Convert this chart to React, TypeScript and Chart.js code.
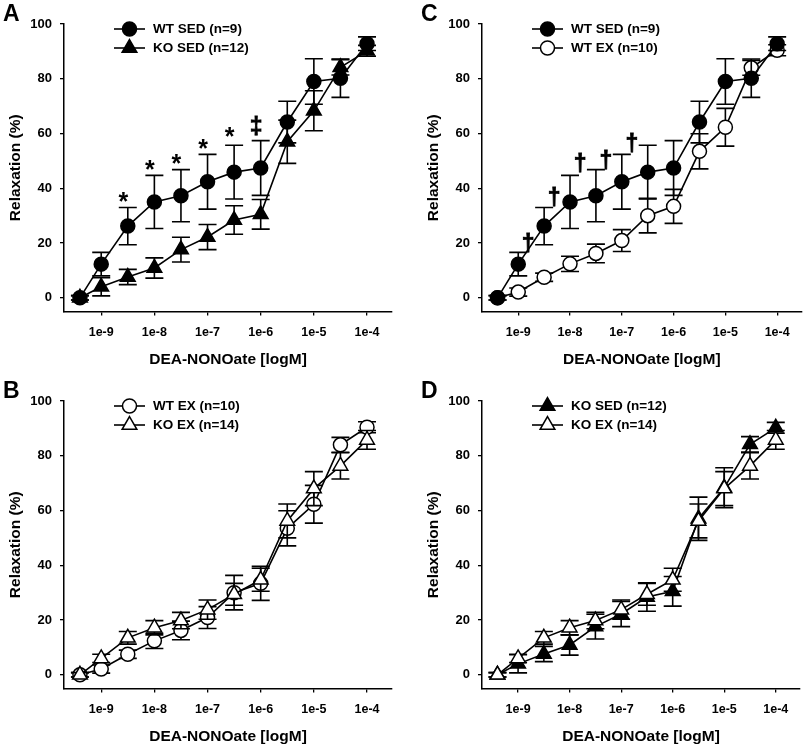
import React, { useEffect, useRef } from 'react';
import { Chart, registerables } from 'chart.js';

Chart.register(...registerables);

// ---------- data ----------
const concLog = [-9.4, -9, -8.5, -8, -7.5, -7, -6.5, -6, -5.5, -5, -4.5, -4];
const xTickValues = [-9, -8, -7, -6, -5, -4];
const xTickLabels = ['1e-9', '1e-8', '1e-7', '1e-6', '1e-5', '1e-4'];
const yTickValues = [0, 20, 40, 60, 80, 100];

const wtSed = [0, 12.3, 26.2, 35.0, 37.3, 42.4, 45.9, 47.4, 64.2, 79.0, 80.2, 92.8];
const wtSedErr = [0.8, 4.3, 6.8, 9.7, 9.5, 10.0, 9.8, 10.0, 7.6, 8.3, 7.0, 2.5];

const koSed = [0, 4.0, 7.6, 10.9, 17.6, 22.2, 28.4, 30.5, 57.0, 68.3, 84.2, 90.2];
const koSedErr = [0.8, 3.3, 2.8, 3.7, 4.5, 4.6, 5.2, 5.4, 7.9, 7.3, 2.8, 2.0];

const wtEx = [0, 2.1, 7.5, 12.4, 16.2, 20.9, 30.0, 33.4, 53.5, 62.3, 84.0, 90.4];
const wtExErr = [0.8, 1.5, 1.5, 2.8, 3.4, 4.0, 6.3, 6.2, 6.4, 6.9, 2.7, 2.0];

const koEx = [0, 6.0, 13.5, 17.2, 19.8, 23.8, 29.4, 34.7, 56.2, 68.0, 76.3, 85.8];
const koExErr = [0.8, 1.5, 2.3, 2.6, 3.0, 3.5, 4.0, 4.2, 6.2, 6.2, 4.8, 3.4];

const labelWtSed = 'WT SED (n=9)';
const labelKoSed = 'KO SED (n=12)';
const labelWtEx = 'WT EX (n=10)';
const labelKoEx = 'KO EX (n=14)';

// significance marks (x in log concentration, y in % relaxation)
const sigAX = [-8.5, -8, -7.5, -7, -6.5, -6];
const sigAY = [36.8, 48.6, 50.7, 56.1, 60.4, 62.8];
const sigAText = ['*', '*', '*', '*', '*', '\u2021'];

const sigCX = [-9, -8.5, -8, -7.5, -7];
const sigCY = [20.0, 37.0, 49.2, 50.4, 56.5];
const sigCText = ['\u2020', '\u2020', '\u2020', '\u2020', '\u2020'];

const xTitle = 'DEA-NONOate [logM]';
const yTitle = 'Relaxation (%)';

// ---------- styles ----------
const FONT = '"Liberation Sans", Arial, Helvetica, sans-serif';
const BLACK = '#000000';

type SeriesDef = {
  label: string;
  values: number[];
  errors: number[];
  shape: 'circle' | 'triangle';
  filled: boolean;
};

const S_WT_SED: SeriesDef = { label: labelWtSed, values: wtSed, errors: wtSedErr, shape: 'circle', filled: true };
const S_KO_SED: SeriesDef = { label: labelKoSed, values: koSed, errors: koSedErr, shape: 'triangle', filled: true };
const S_WT_EX: SeriesDef = { label: labelWtEx, values: wtEx, errors: wtExErr, shape: 'circle', filled: false };
const S_KO_EX: SeriesDef = { label: labelKoEx, values: koEx, errors: koExErr, shape: 'triangle', filled: false };

type PanelDef = {
  letter: string;
  left: number;
  top: number;
  width: number;
  padRight: number;
  series: SeriesDef[];
  topSeries: number;
  sig?: { xs: number[]; ys: number[]; texts: string[]; dx: number };
};

const PANELS: PanelDef[] = [
  { letter: 'A', left: 0, top: 0, width: 405, padRight: 13, series: [S_WT_SED, S_KO_SED], topSeries: 1,
    sig: { xs: sigAX, ys: sigAY, texts: sigAText, dx: -4.5 } },
  { letter: 'C', left: 418, top: 0, width: 392, padRight: 0, series: [S_WT_SED, S_WT_EX], topSeries: 0,
    sig: { xs: sigCX, ys: sigCY, texts: sigCText, dx: 10 } },
  { letter: 'B', left: 0, top: 377, width: 405, padRight: 13, series: [S_WT_EX, S_KO_EX], topSeries: 1 },
  { letter: 'D', left: 418, top: 377, width: 392, padRight: 0, series: [S_KO_SED, S_KO_EX], topSeries: 1 },
];

const PANEL_HEIGHT = 370;
const CIRCLE_R = 7;
const TRI_R = 8.5;
const LINE_W = 1.6;
const CAP_HALF = 9;

function markerPath(ctx: CanvasRenderingContext2D, shape: string, x: number, y: number) {
  ctx.beginPath();
  if (shape === 'circle') {
    ctx.arc(x, y, CIRCLE_R, 0, Math.PI * 2);
  } else {
    const r = TRI_R;
    const s = Math.sin((2 * Math.PI) / 3) * r;
    ctx.moveTo(x, y - r);
    ctx.lineTo(x + s, y + r / 2);
    ctx.lineTo(x - s, y + r / 2);
  }
  ctx.closePath();
}

const errorBarPlugin = {
  id: 'errorBars',
  beforeDatasetDraw(chart: any, args: any) {
    const ds = chart.data.datasets[args.index];
    const errs: number[] = ds.errors;
    if (!errs) return;
    const yScale = chart.scales.y;
    const ctx = chart.ctx;
    ctx.save();
    ctx.strokeStyle = BLACK;
    ctx.lineWidth = LINE_W;
    args.meta.data.forEach((el: any, i: number) => {
      const v = ds.data[i].y;
      const e = errs[i];
      const x = el.x;
      const yTop = yScale.getPixelForValue(v + e);
      const yBot = yScale.getPixelForValue(v - e);
      ctx.beginPath();
      ctx.moveTo(x, yTop);
      ctx.lineTo(x, yBot);
      ctx.moveTo(x - CAP_HALF, yTop);
      ctx.lineTo(x + CAP_HALF, yTop);
      ctx.moveTo(x - CAP_HALF, yBot);
      ctx.lineTo(x + CAP_HALF, yBot);
      ctx.stroke();
    });
    ctx.restore();
  },
};

const legendPlugin = {
  id: 'lineLegend',
  afterDraw(chart: any) {
    const { ctx, chartArea } = chart;
    ctx.save();
    chart.data.datasets.forEach((ds: any, i: number) => {
      const y = chartArea.top + 5 + i * 19;
      const x0 = chartArea.left + 50;
      ctx.strokeStyle = BLACK;
      ctx.lineWidth = LINE_W;
      ctx.beginPath();
      ctx.moveTo(x0, y);
      ctx.lineTo(x0 + 31, y);
      ctx.stroke();
      markerPath(ctx, ds.shape, x0 + 15.5, y);
      ctx.fillStyle = ds.filled ? BLACK : '#ffffff';
      ctx.fill();
      ctx.lineWidth = 1.5;
      ctx.stroke();
      ctx.fillStyle = BLACK;
      ctx.font = `bold 13.5px ${FONT}`;
      ctx.textAlign = 'left';
      ctx.textBaseline = 'middle';
      ctx.fillText(ds.label, x0 + 39, y + 0.5);
    });
    ctx.restore();
  },
};

function makeSigPlugin(sig?: PanelDef['sig']) {
  return {
    id: 'sigMarks',
    afterDatasetsDraw(chart: any) {
      if (!sig) return;
      const { ctx } = chart;
      const xs = chart.scales.x;
      const ys = chart.scales.y;
      ctx.save();
      ctx.fillStyle = BLACK;
      ctx.textAlign = 'center';
      ctx.textBaseline = 'alphabetic';
      sig.texts.forEach((t, i) => {
        ctx.font = t === '*' ? `bold 25px ${FONT}` : `bold 23px ${FONT}`;
        const px = xs.getPixelForValue(sig.xs[i]) + sig.dx;
        const py = ys.getPixelForValue(sig.ys[i]);
        const m = ctx.measureText(t);
        const base = py + (m.actualBoundingBoxAscent - m.actualBoundingBoxDescent) / 2;
        ctx.fillText(t, px, base);
        if (t !== '*') {
          // slightly heavier stroke to match the bold printed daggers
          ctx.lineWidth = 0.8;
          ctx.strokeStyle = BLACK;
          ctx.strokeText(t, px, base);
        }
      });
      ctx.restore();
    },
  };
}

function Panel({ def }: { def: PanelDef }) {
  const ref = useRef<HTMLCanvasElement | null>(null);

  useEffect(() => {
    if (!ref.current) return;
    const datasets = def.series.map((s, idx) => ({
      label: s.label,
      data: concLog.map((x, i) => ({ x, y: s.values[i] })),
      errors: s.errors,
      shape: s.shape,
      filled: s.filled,
      order: idx === def.topSeries ? 0 : 1,
      showLine: true,
      borderColor: BLACK,
      borderWidth: LINE_W,
      tension: 0,
      pointStyle: s.shape,
      pointRadius: s.shape === 'circle' ? CIRCLE_R : TRI_R,
      pointBackgroundColor: s.filled ? BLACK : '#ffffff',
      pointBorderColor: BLACK,
      pointBorderWidth: 1.5,
      clip: false,
    }));

    const gridOpts = {
      drawOnChartArea: false,
      drawTicks: true,
      tickLength: 4,
      color: BLACK,
      lineWidth: 1.3,
    };
    const borderOpts = { display: true, color: BLACK, width: 1.5 };

    const chart = new Chart(ref.current, {
      type: 'line',
      data: { datasets: datasets as any },
      plugins: [errorBarPlugin, legendPlugin, makeSigPlugin(def.sig)],
      options: {
        animation: false,
        responsive: false,
        maintainAspectRatio: false,
        events: [],
        layout: { padding: { left: 3, right: def.padRight, top: 0, bottom: 0 } },
        plugins: {
          legend: { display: false },
          tooltip: { enabled: false },
          title: {
            display: true,
            text: def.letter,
            align: 'start',
            color: BLACK,
            font: { family: FONT, size: 23, weight: 'bold', lineHeight: 0.8 },
            padding: { top: 5.6, bottom: 0 },
          },
        },
        scales: {
          x: {
            type: 'linear',
            min: -9.7,
            max: -3.53,
            afterBuildTicks: (s: any) => {
              s.ticks = xTickValues.map((v) => ({ value: v }));
            },
            afterFit: (s: any) => {
              s.height = 58.5;
            },
            ticks: {
              autoSkip: false,
              maxRotation: 0,
              padding: 10,
              color: BLACK,
              font: { family: FONT, size: 12.5, weight: 'bold' },
              callback: (v: any) => {
                const k = xTickValues.findIndex((t) => Math.abs(t - Number(v)) < 1e-9);
                return k >= 0 ? xTickLabels[k] : '';
              },
            },
            grid: gridOpts,
            border: borderOpts,
            title: {
              display: true,
              text: xTitle,
              color: BLACK,
              font: { family: FONT, size: 15.5, weight: 'bold' },
              padding: { top: 0, bottom: 0.7 },
            },
          },
          y: {
            type: 'linear',
            min: -5,
            max: 100,
            afterBuildTicks: (s: any) => {
              s.ticks = yTickValues.map((v) => ({ value: v }));
            },
            afterFit: (s: any) => {
              s.width = 61;
            },
            ticks: {
              padding: 8,
              color: BLACK,
              font: { family: FONT, size: 13, weight: 'bold' },
              callback: (v: any) => String(v),
            },
            grid: gridOpts,
            border: borderOpts,
            title: {
              display: true,
              text: yTitle,
              color: BLACK,
              font: { family: FONT, size: 15.5, weight: 'bold' },
              padding: { top: 3.5, bottom: 0 },
            },
          },
        },
      } as any,
    });
    return () => chart.destroy();
  }, [def]);

  return (
    <canvas
      ref={ref}
      width={def.width}
      height={PANEL_HEIGHT}
      style={{ position: 'absolute', left: def.left, top: def.top, width: def.width, height: PANEL_HEIGHT }}
    />
  );
}

export default function App() {
  return (
    <div
      style={{
        position: 'fixed',
        left: 0,
        top: 0,
        width: 810,
        height: 747,
        background: '#ffffff',
        overflow: 'hidden',
      }}
    >
      {PANELS.map((p) => (
        <Panel key={p.letter} def={p} />
      ))}
    </div>
  );
}
